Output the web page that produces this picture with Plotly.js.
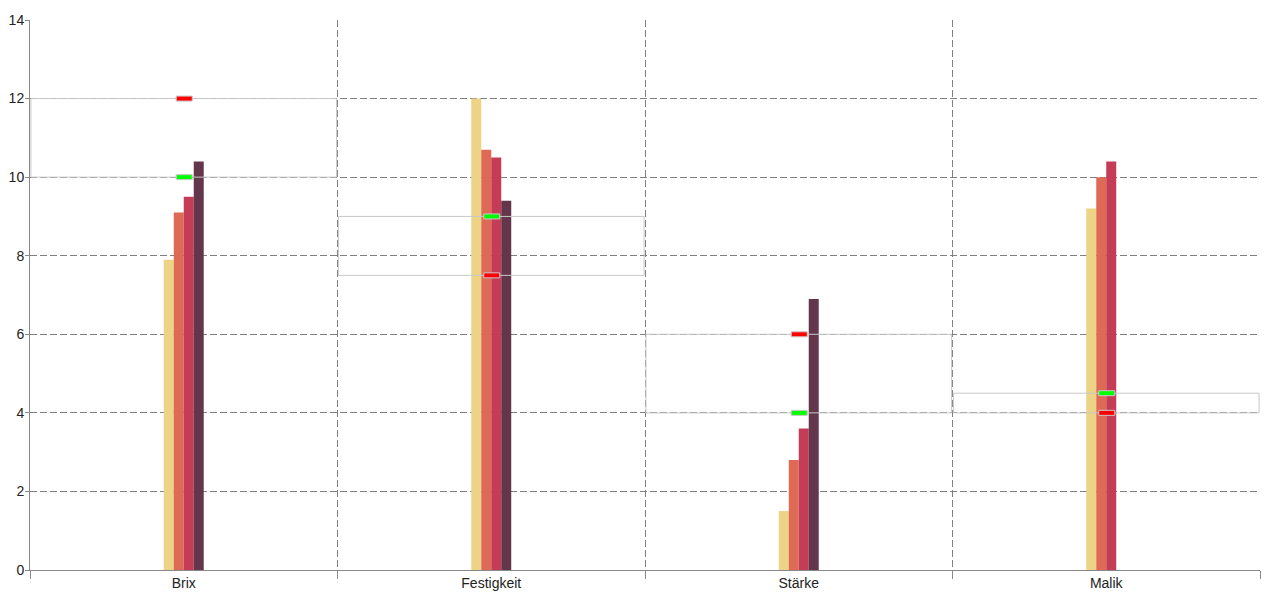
<!DOCTYPE html>
<html>
<head>
<meta charset="utf-8">
<script src="https://cdn.plot.ly/plotly-3.0.1.min.js"></script>
<style>html,body{margin:0;padding:0;background:#fff;}#chart{width:1280px;height:600px;}</style>
</head>
<body>
<div id="chart"></div>
<script>
const categories = ["Brix", "Festigkeit", "Stärke", "Malik"];
const series1 = [7.9, 12.0, 1.5, 9.2];
const series2 = [9.1, 10.7, 2.8, 10.0];
const series3 = [9.5, 10.5, 3.6, 10.4];
const series4 = [10.4, 9.4, 6.9, 0];
const greenTargets = [10, 9, 4, 4.5];
const redTargets = [12, 7.5, 6, 4];
const yTicks = [0, 2, 4, 6, 8, 10, 12, 14];

const colors = ["#EDD385", "#DE6A56", "#C43C55", "#64364B"];
const allSeries = [series1, series2, series3, series4];

const traces = allSeries.map((vals, i) => ({
  type: "bar",
  x: categories,
  y: vals,
  marker: {color: colors[i], line: {width: 0}},
  hoverinfo: "x+y",
  showlegend: false
}));

const shapes = [];
categories.forEach((c, i) => {
  const lo = Math.min(greenTargets[i], redTargets[i]);
  const hi = Math.max(greenTargets[i], redTargets[i]);
  shapes.push({
    type: "rect", xref: "x", yref: "y", layer: "above",
    x0: i - 0.497, x1: i + 0.497, y0: lo, y1: hi,
    line: {color: "#C8C8C8", width: 1}, fillcolor: "rgba(0,0,0,0)"
  });
  [[greenTargets[i], "#00FF00"], [redTargets[i], "#FF0000"]].forEach(([v, col]) => {
    shapes.push({
      type: "rect", xref: "x", yref: "y", layer: "above",
      xsizemode: "pixel", xanchor: i, x0: -7.5, x1: 8.5,
      ysizemode: "pixel", yanchor: v, y0: -2.5, y1: 2.5,
      line: {color: "#C8C8C8", width: 1}, fillcolor: col
    });
  });
});

const layout = {
  width: 1280, height: 600,
  margin: {l: 30, r: 20, t: 20, b: 30},
  paper_bgcolor: "#fff", plot_bgcolor: "#fff",
  barmode: "group",
  bargap: 0.87,
  bargroupgap: 0,
  font: {family: "Liberation Sans, Arial, sans-serif", size: 14, color: "#222"},
  xaxis: {
    type: "category",
    tickson: "boundaries",
    ticks: "outside", ticklen: 8, tickcolor: "#888", tickwidth: 1,
    showgrid: true, gridcolor: "#808080", gridwidth: 1, griddash: "7px,3px",
    showline: true, linecolor: "#888", linewidth: 1,
    zeroline: false,
    tickfont: {size: 14, color: "#222"},
    ticklabelstandoff: 0,
    fixedrange: true
  },
  yaxis: {
    range: [0, 14],
    tickvals: yTicks,
    ticks: "outside", ticklen: 4, tickcolor: "#888", tickwidth: 1,
    showgrid: true, gridcolor: "#808080", gridwidth: 1, griddash: "7px,3px",
    showline: true, linecolor: "#888", linewidth: 1,
    zeroline: false,
    tickfont: {size: 14, color: "#222"},
    ticklabelstandoff: -2,
    fixedrange: true
  },
  shapes: shapes
};

Plotly.newPlot("chart", traces, layout, {displayModeBar: false, staticPlot: true});
</script>
</body>
</html>
